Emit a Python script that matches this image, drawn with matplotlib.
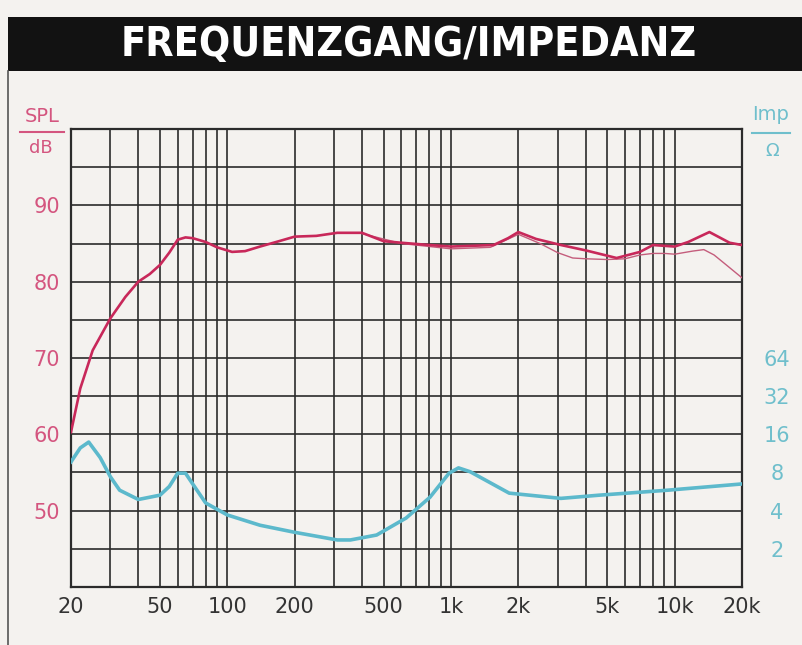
import matplotlib
matplotlib.use('Agg')
import matplotlib.pyplot as plt
from matplotlib import font_manager
from matplotlib.patches import Rectangle
from matplotlib.lines import Line2D
from matplotlib.ticker import FixedLocator, NullFormatter

# SPL on axis (dB)
spl_freq = [20, 22, 25, 30, 35, 40, 45, 50, 55, 60, 65, 70, 80, 90, 105, 120, 140, 170, 200,
            250, 310, 400, 500, 600, 800, 1000, 1250, 1550, 1800, 2000, 2400, 3100, 4000,
            5500, 7000, 8000, 10000, 11500, 14300, 17600, 20000]
spl_db = [60.3, 66.0, 71.0, 75.2, 78.0, 80.0, 81.0, 82.2, 83.8, 85.5, 85.8, 85.7, 85.2, 84.5,
          83.9, 84.0, 84.6, 85.3, 85.9, 86.0, 86.4, 86.4, 85.3, 85.1, 84.8, 84.6, 84.7, 84.8,
          85.7, 86.5, 85.6, 84.8, 84.1, 83.1, 83.9, 84.8, 84.6, 85.2, 86.5, 85.1, 84.8]

# SPL off axis (thin curve)
off_freq = [400, 600, 1000, 1500, 2000, 2500, 3000, 3500, 4000, 5000, 6000, 7000, 8000, 9000,
            10000, 12000, 13500, 15000, 17000, 20000]
off_db = [86.3, 85.0, 84.3, 84.5, 86.2, 85.0, 83.8, 83.1, 83.0, 82.9, 83.0, 83.5, 83.7, 83.7,
          83.6, 84.0, 84.2, 83.5, 82.2, 80.5]

# impedance (ohm)
imp_freq = [20, 22, 24, 27, 30, 33, 40, 50, 55, 60, 65, 70, 80, 100, 140, 200, 310, 355, 465,
            630, 805, 980, 1080, 1220, 1820, 3100, 4600, 9300, 20000]
imp_ohm = [9.7, 12.5, 13.9, 10.5, 7.4, 5.8, 4.9, 5.3, 6.2, 7.9, 7.9, 6.5, 4.6, 3.7, 3.07, 2.7,
           2.35, 2.35, 2.57, 3.5, 5.1, 7.9, 8.7, 8.1, 5.5, 5.0, 5.3, 5.8, 6.5]

x_ticks = [20, 50, 100, 200, 500, 1000, 2000, 5000, 10000, 20000]
x_labels = ['20', '50', '100', '200', '500', '1k', '2k', '5k', '10k', '20k']
db_ticks = [50, 60, 70, 80, 90]
imp_ticks = [2, 4, 8, 16, 32, 64]

bg = '#f4f2ef'
pink = '#c8285a'
pink_txt = '#d4557f'
cyan = '#5cb9cc'
cyan_txt = '#6fbfcc'
gridc = '#2b2b2b'


def condensed_bold():
    # look for a narrow sans bold face for the title
    for f in font_manager.fontManager.ttflist:
        name = (f.name + ' ' + f.fname.split('/')[-1]).lower()
        narrow = 'condensed' in name or 'narrow' in name
        if (narrow and 'bold' in name and 'sans' in name and 'serif' not in name
                and 'mono' not in name and 'oblique' not in name and 'italic' not in name):
            return font_manager.FontProperties(fname=f.fname, size=29.5)
    return font_manager.FontProperties(family='DejaVu Sans', weight='bold', size=24)


W, H = 802, 645
fig = plt.figure(figsize=(W / 100, H / 100), dpi=100, facecolor=bg)

# title bar
fig.patches.append(Rectangle((8 / W, 1 - 71 / H), 1 - 8 / W, 54 / H, transform=fig.transFigure,
                             facecolor='#121212', edgecolor='none'))
fig.text(409 / W, 1 - 45 / H, 'FREQUENZGANG/IMPEDANZ', color='white',
         fontproperties=condensed_bold(), ha='center', va='center')
fig.lines.append(Line2D([8 / W, 8 / W], [0, 1 - 71 / H], transform=fig.transFigure,
                        color='#555555', lw=1.2))

ax = fig.add_axes([71 / W, 1 - 587 / H, (742 - 71) / W, (587 - 129) / H])
ax.set_facecolor(bg)
ax.set_xscale('log')
ax.set_xlim(20, 20000)
ax.set_ylim(40, 100)

minor = []
for dec in [10, 100, 1000, 10000]:
    for m in range(2, 10):
        v = m * dec
        if 20 < v < 20000 and v not in x_ticks:
            minor.append(v)
ax.xaxis.set_major_locator(FixedLocator(x_ticks))
ax.xaxis.set_minor_locator(FixedLocator(minor))
ax.xaxis.set_minor_formatter(NullFormatter())
ax.set_xticklabels(x_labels)
ax.set_yticks(range(40, 101, 5))
ax.set_yticklabels([str(v) if v in db_ticks else '' for v in range(40, 101, 5)])
ax.grid(True, which='both', axis='x', color=gridc, lw=1.2)
ax.grid(True, which='major', axis='y', color=gridc, lw=1.2)
ax.tick_params(which='both', length=0)
ax.tick_params(axis='x', labelsize=15, colors='#333333', pad=7)
ax.tick_params(axis='y', labelsize=15, labelcolor=pink_txt, pad=8)
for s in ax.spines.values():
    s.set_color(gridc)
    s.set_linewidth(1.6)

ax.plot(off_freq, off_db, color='#c45d7c', lw=1.0, zorder=3)
ax.plot(spl_freq, spl_db, color=pink, lw=1.9, zorder=4, solid_joinstyle='round')

ax2 = ax.twinx()
ax2.set_yscale('log', base=2)
ax2.set_ylim(1, 4096)
ax2.set_yticks(imp_ticks)
ax2.set_yticklabels([str(v) for v in imp_ticks])
ax2.yaxis.set_minor_locator(FixedLocator([]))
ax2.tick_params(which='both', length=0)
ax2.tick_params(axis='y', labelsize=15, labelcolor=cyan_txt, pad=25)
for lab in ax2.get_yticklabels():
    lab.set_horizontalalignment('center')
for s in ax2.spines.values():
    s.set_visible(False)
ax2.plot(imp_freq, imp_ohm, color=cyan, lw=2.6, zorder=4, solid_joinstyle='round')

# axis unit labels
fig.text(42 / W, 1 - 117 / H, 'SPL', color=pink_txt, fontsize=14, ha='center', va='center')
fig.lines.append(Line2D([20 / W, 64 / W], [1 - 132 / H, 1 - 132 / H], transform=fig.transFigure,
                        color=pink_txt, lw=1.5))
fig.text(41 / W, 1 - 148 / H, 'dB', color=pink_txt, fontsize=13, ha='center', va='center')
fig.text(771 / W, 1 - 114 / H, 'Imp', color=cyan_txt, fontsize=14, ha='center', va='center')
fig.lines.append(Line2D([752 / W, 790 / W], [1 - 133 / H, 1 - 133 / H], transform=fig.transFigure,
                        color=cyan_txt, lw=1.5))
fig.text(772 / W, 1 - 151 / H, 'Ω', color=cyan_txt, fontsize=13, ha='center', va='center')

fig.savefig('out.png', dpi=100, facecolor=bg)
